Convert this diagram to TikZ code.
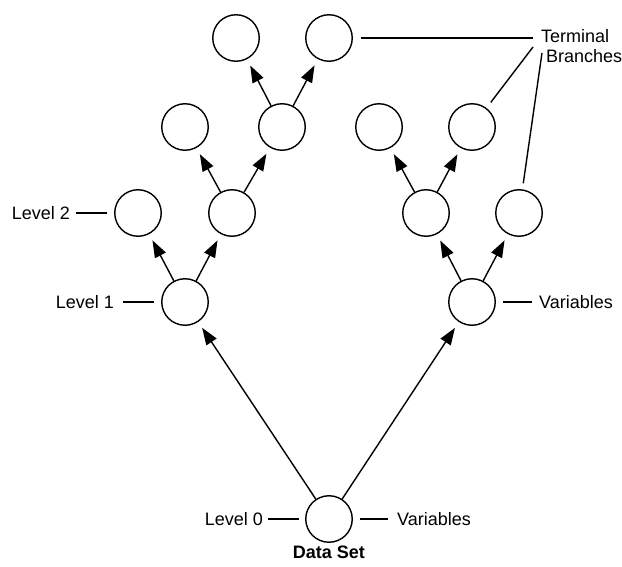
\documentclass[tikz,border=0pt]{standalone}
\usepackage{fontspec}
\setmainfont{Liberation Sans}
\usetikzlibrary{arrows.meta}
\begin{document}
\begin{tikzpicture}[x=1pt,y=-1pt,
  nd/.style={circle,draw,line width=1.4pt,minimum size=46.5pt,inner sep=0pt},
  arr/.style={line width=1.4pt,-{Triangle[length=17pt,width=12pt]},shorten >=7pt},
  lbl/.style={font=\fontsize{18}{20}\selectfont,inner sep=0pt},
  ln/.style={line width=1.4pt}]
\useasboundingbox (0,0) rectangle (622,567);
% nodes
\node[nd] (r) at (329,519) {};
\node[nd] (a) at (185,302) {};
\node[nd] (b) at (472,302) {};
\node[nd] (a1) at (138,213) {};
\node[nd] (a2) at (232,213) {};
\node[nd] (b1) at (426,213) {};
\node[nd] (b2) at (519,213) {};
\node[nd] (a21) at (185,127) {};
\node[nd] (a22) at (282,127) {};
\node[nd] (b11) at (379,127) {};
\node[nd] (b12) at (472,127) {};
\node[nd] (a221) at (236,38) {};
\node[nd] (a222) at (329,38) {};
% arrows
\draw[arr] (r) -- (a);
\draw[arr] (r) -- (b);
\draw[arr] (a) -- (a1);
\draw[arr] (a) -- (a2);
\draw[arr] (a2) -- (a21);
\draw[arr] (a2) -- (a22);
\draw[arr] (a22) -- (a221);
\draw[arr] (a22) -- (a222);
\draw[arr] (b) -- (b1);
\draw[arr] (b) -- (b2);
\draw[arr] (b1) -- (b11);
\draw[arr] (b1) -- (b12);
% labels
\node[lbl,anchor=east] (l2) at (70,213) {Level 2};
\draw[ln] ([xshift=6pt]l2.east) -- ([xshift=-7pt]a1.west);
\node[lbl,anchor=east] (l1) at (114,302) {Level 1};
\draw[ln] ([xshift=9pt]l1.east) -- ([xshift=-7pt]a.west);
\node[lbl,anchor=east] (l0) at (263,519) {Level 0};
\draw[ln] ([xshift=5pt]l0.east) -- ([xshift=-6pt]r.west);
\node[lbl,anchor=west] (v0) at (397,519) {Variables};
\draw[ln] ([xshift=-9pt]v0.west) -- ([xshift=7pt]r.east);
\node[lbl,anchor=west] (v1) at (539,302) {Variables};
\draw[ln] ([xshift=-7pt]v1.west) -- ([xshift=7pt]b.east);
\node[lbl,font=\fontsize{18}{20}\selectfont\bfseries] (ds) at (329,552) {Data Set};
\node[lbl,anchor=base west] (t1) at (541,43) {Terminal};
\node[lbl,anchor=base west] (t2) at (546,63) {Branches};
\coordinate (c1) at (533,38);
\coordinate (c2) at (533,47);
\coordinate (c3) at (542,53);
\draw[ln,shorten <=8pt] (a222) -- (c1);
\draw[ln,shorten <=7pt] (b12) -- (c2);
\draw[ln,shorten <=6pt] (b2) -- (c3);
\end{tikzpicture}
\end{document}
